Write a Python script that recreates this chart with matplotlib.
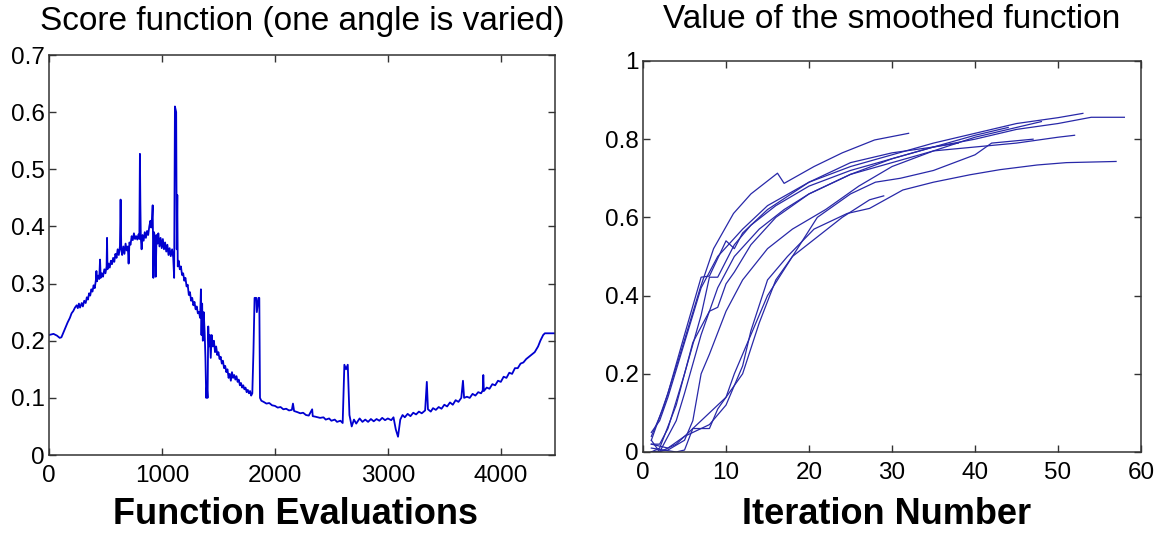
import matplotlib
matplotlib.use('Agg')
import matplotlib.pyplot as plt

plt.rcParams['font.family'] = ['Liberation Sans', 'DejaVu Sans']

# left panel: score vs function evaluations in pieces
seg_rise = [(0, .21), (40, .212), (70, .209), (95, .205), (110, .206), (125, .213), (145, .222),
            (165, .232), (185, .24), (200, .248), (215, .252), (230, .258), (245, .262), (255, .257),
            (265, .265), (275, .258), (290, .266), (300, .26), (312, .27), (325, .266), (335, .276),
            (345, .272), (355, .283), (365, .279), (375, .29), (385, .286), (395, .297), (405, .292),
            (415, .306), (420, .322), (425, .304), (435, .314), (445, .308), (452, .342), (458, .31),
            (468, .318), (478, .312), (490, .325), (500, .318), (510, .33), (514, .38), (518, .325),
            (528, .335), (538, .328), (548, .34), (558, .334), (568, .345), (578, .338), (588, .352),
            (598, .345), (608, .36), (618, .35), (628, .365), (634, .447), (640, .36), (648, .35),
            (658, .365), (668, .352), (678, .37), (688, .358), (698, .365), (705, .335), (712, .372),
            (722, .368), (732, .383), (742, .376), (752, .388), (762, .378), (772, .383), (782, .377),
            (792, .386), (800, .378)]
seg_peak = [(805, .527), (809, .44), (813, .38), (820, .36), (828, .385), (838, .375), (848, .39),
            (858, .38), (868, .392), (878, .385), (888, .40), (898, .41), (905, .398), (912, .412),
            (918, .437), (924, .31), (930, .39), (938, .38), (945, .312), (952, .385), (960, .37),
            (968, .388), (978, .365), (988, .38), (998, .362), (1008, .378), (1018, .36), (1028, .372),
            (1038, .356), (1048, .368), (1058, .35), (1068, .362), (1078, .348), (1090, .36),
            (1100, .345), (1108, .31), (1115, .61), (1120, .605), (1126, .6), (1131, .36), (1136, .455),
            (1140, .33), (1148, .34)]
seg_fall = [(1158, .325), (1168, .33), (1178, .315), (1188, .318), (1198, .305), (1208, .31),
            (1218, .295), (1228, .298), (1238, .28), (1248, .285), (1258, .27), (1268, .275),
            (1278, .262), (1288, .268), (1298, .255), (1308, .26), (1318, .248), (1328, .25),
            (1338, .24), (1345, .29), (1350, .21), (1356, .265), (1362, .2), (1370, .25), (1378, .215),
            (1385, .17), (1392, .10), (1398, .12), (1404, .10), (1410, .225), (1416, .19), (1424, .21),
            (1432, .17), (1440, .21), (1450, .19), (1460, .2), (1470, .18), (1480, .19), (1490, .175),
            (1500, .18), (1510, .168), (1520, .172), (1530, .16), (1540, .165), (1550, .152),
            (1560, .156), (1570, .145), (1580, .15), (1590, .135), (1600, .142), (1610, .13),
            (1620, .145), (1630, .135), (1640, .14), (1650, .132), (1660, .138), (1670, .128),
            (1680, .132), (1690, .122), (1700, .126), (1710, .118), (1720, .122), (1730, .115),
            (1740, .118), (1750, .11), (1760, .114), (1770, .108), (1780, .112), (1790, .104),
            (1800, .108), (1810, .18), (1820, .275), (1835, .275), (1840, .25), (1855, .275),
            (1862, .275), (1868, .10)]
seg_floor = [(1880, .095), (1900, .093), (1925, .09), (1950, .091), (1975, .087), (2000, .086),
             (2025, .083), (2050, .084), (2075, .08), (2100, .081), (2125, .078), (2150, .079),
             (2160, .09), (2170, .077), (2200, .075), (2225, .073), (2250, .074), (2275, .07),
             (2300, .069), (2330, .08), (2335, .068), (2360, .067), (2400, .065), (2430, .066),
             (2450, .062), (2480, .064), (2500, .06), (2530, .062), (2550, .058), (2580, .06),
             (2600, .056), (2615, .158), (2630, .15), (2645, .158), (2660, .07), (2680, .05),
             (2700, .062), (2720, .055), (2750, .064), (2775, .058), (2800, .062), (2825, .058),
             (2850, .063), (2875, .059), (2900, .063), (2925, .06), (2950, .065), (2975, .061),
             (3000, .064), (3030, .061), (3050, .066), (3070, .045), (3090, .032), (3110, .062),
             (3130, .07), (3150, .066), (3175, .072), (3200, .068), (3225, .074), (3250, .071),
             (3275, .076), (3300, .073), (3330, .078), (3345, .128), (3355, .08), (3380, .076),
             (3400, .082)]
seg_tail = [(3425, .079), (3450, .084), (3475, .081), (3500, .088), (3525, .085), (3550, .092),
            (3575, .088), (3600, .096), (3625, .093), (3650, .1), (3665, .13), (3675, .1), (3700, .102),
            (3725, .1), (3750, .107), (3775, .104), (3800, .11), (3825, .108), (3840, .113),
            (3845, .14), (3850, .112), (3875, .118), (3900, .116), (3925, .124), (3950, .122),
            (3975, .13), (4000, .128), (4025, .137), (4050, .135), (4075, .144), (4100, .142),
            (4125, .152), (4150, .152), (4175, .16), (4200, .162), (4225, .168), (4250, .172),
            (4275, .176), (4300, .18), (4330, .19), (4350, .2), (4375, .21), (4390, .213), (4480, .213)]
score_segs = [seg_rise, seg_peak, seg_fall, seg_floor, seg_tail]

# right panel: smoothed function value per run (iteration, value)
run_a = [(1, 0.04), (2.4, 0.11), (4.4, 0.245), (6.9, 0.42), (8.5, 0.52), (10.9, 0.61), (13, 0.66),
         (16.2, 0.713), (17, 0.687), (20.6, 0.73), (24, 0.765), (27.9, 0.798), (32, 0.815)]
run_b = [(1, 0.03), (3, 0.15), (5, 0.3), (7, 0.447), (8, 0.45), (10, 0.54), (11, 0.52), (12, 0.56),
         (15, 0.62), (20, 0.69), (25, 0.73), (30, 0.76), (35, 0.79), (40, 0.815), (45, 0.84),
         (50, 0.855), (53, 0.866)]
run_c = [(1, 0.02), (2, 0.02), (3, 0.06), (5, 0.2), (7, 0.35), (8, 0.447), (9, 0.447), (11, 0.53),
         (13, 0.58), (16, 0.63), (20, 0.68), (25, 0.72), (30, 0.75), (35, 0.78), (40, 0.80),
         (45, 0.825), (50, 0.84), (54, 0.856), (58, 0.856)]
run_d = [(1, 0.0), (2, 0.01), (4, 0.12), (6, 0.28), (8, 0.36), (9, 0.37), (10, 0.43), (11, 0.46),
         (13, 0.53), (16, 0.60), (20, 0.66), (25, 0.71), (30, 0.74), (35, 0.77), (40, 0.78),
         (45, 0.79), (50, 0.805), (52, 0.81)]
run_e = [(1, 0.02), (3, 0.01), (5, 0.04), (8, 0.07), (10, 0.12), (12, 0.22), (13, 0.31), (15, 0.44),
         (17.4, 0.5), (20.6, 0.57), (24.6, 0.61), (27.3, 0.623), (31.3, 0.67), (35, 0.69),
         (39.4, 0.709), (43, 0.722), (47.5, 0.734), (51, 0.74), (57, 0.743)]
run_f = [(1, 0.01), (4, 0.0), (5, 0.005), (6, 0.06), (8, 0.06), (9, 0.11), (11, 0.17), (12, 0.2),
         (14, 0.33), (16, 0.44), (18, 0.5), (21, 0.55), (24, 0.6), (27.3, 0.645), (29, 0.655)]
run_g = [(1, 0.0), (3, 0.005), (5, 0.03), (6, 0.08), (7, 0.2), (8, 0.25), (10, 0.36), (12, 0.44),
         (15, 0.52), (18, 0.57), (22, 0.62), (26, 0.68), (30, 0.73), (35, 0.77), (40, 0.805),
         (45, 0.83), (48, 0.845)]
run_h = [(1, 0.05), (2, 0.08), (3, 0.14), (5, 0.28), (7, 0.42), (9, 0.5), (12, 0.57), (15, 0.63),
         (20, 0.69), (25, 0.74), (30, 0.765), (35, 0.78), (38, 0.79)]
run_i = [(1, 0.0), (2, 0.0), (4, 0.02), (6, 0.06), (8, 0.1), (10, 0.14), (11, 0.2), (13, 0.3),
         (15, 0.4), (18, 0.5), (21, 0.6), (25, 0.66), (28, 0.69), (31, 0.70), (35, 0.72),
         (40, 0.76), (42, 0.79), (47, 0.80)]
run_j = [(1, 0.03), (2, 0.0), (4, 0.08), (5, 0.15), (7, 0.3), (9, 0.42), (11, 0.5), (14, 0.57),
         (17, 0.62), (20, 0.66), (25, 0.71), (30, 0.75), (35, 0.78), (40, 0.81), (44, 0.83)]
runs = [run_a, run_b, run_c, run_d, run_e, run_f, run_g, run_h, run_i, run_j]

fig = plt.figure(figsize=(11.58, 5.33), dpi=100)
ax1 = fig.add_axes([0.0423, 0.1463, 0.437, 0.7505])
ax2 = fig.add_axes([0.5553, 0.152, 0.430, 0.7336])

pts = [p for seg in score_segs for p in seg]
ax1.plot([p[0] for p in pts], [p[1] for p in pts], color='#0000d0', lw=1.3)
ax1.set_xlim(0, 4480)
ax1.set_ylim(0, 0.7)
ax1.set_xticks([0, 1000, 2000, 3000, 4000])
ax1.set_yticks([0, 0.1, 0.2, 0.3, 0.4, 0.5, 0.6, 0.7])
ax1.set_yticklabels(['0', '0.1', '0.2', '0.3', '0.4', '0.5', '0.6', '0.7'])
ax1.set_title('Score function (one angle is varied)', fontsize=24, pad=18)

for r in runs:
    ax2.plot([p[0] for p in r], [p[1] for p in r], color='#2828a8', lw=0.9)
ax2.set_xlim(0, 60)
ax2.set_ylim(0, 1)
ax2.set_xticks([0, 10, 20, 30, 40, 50, 60])
ax2.set_yticks([0, 0.2, 0.4, 0.6, 0.8, 1])
ax2.set_yticklabels(['0', '0.2', '0.4', '0.6', '0.8', '1'])
ax2.set_title('Value of the smoothed function', fontsize=24, pad=24)

fig.text(0.2556, 0.017, 'Function Evaluations', fontsize=26, fontweight='bold',
         ha='center', va='baseline')
fig.text(0.766, 0.017, 'Iteration Number', fontsize=26, fontweight='bold',
         ha='center', va='baseline')

for ax in (ax1, ax2):
    ax.tick_params(direction='in', top=True, right=True, length=5, width=1,
                   labelsize=17.5, colors='#333333', labelcolor='black')
    ax.tick_params(axis='x', pad=7)
    ax.tick_params(axis='y', pad=3)
    for s in ax.spines.values():
        s.set_color('#333333')
        s.set_linewidth(1.1)

fig.savefig('out.png', dpi=100)
